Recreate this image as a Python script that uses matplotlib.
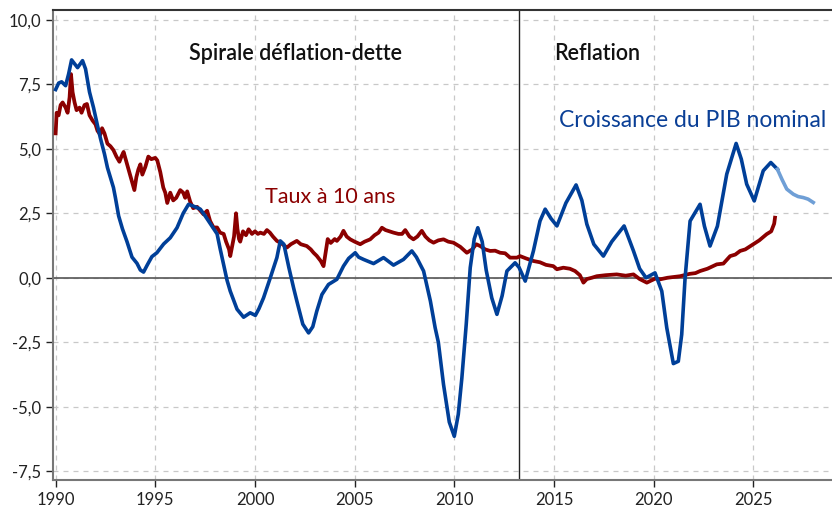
import matplotlib
matplotlib.use("Agg")
import matplotlib.pyplot as plt
import matplotlib.ticker as mticker

plt.rcParams['font.family'] = ['Lato', 'DejaVu Sans']

# Croissance du PIB nominal (glissement annuel, %)
gdp_years = [1990.0, 1990.15, 1990.3, 1990.5, 1990.65, 1990.8, 1990.95, 1991.1, 1991.35, 1991.5,
             1991.7, 1991.9, 1992.1, 1992.25, 1992.45, 1992.6, 1992.9, 1993.0, 1993.16, 1993.35,
             1993.58, 1993.83, 1994.08, 1994.25, 1994.41, 1994.6, 1994.83, 1995.08, 1995.42, 1995.75,
             1996.09, 1996.4, 1996.67, 1997.0, 1997.26, 1997.5, 1997.67, 1998.1, 1998.26, 1998.43,
             1998.6, 1998.76, 1999.1, 1999.43, 1999.76, 2000.02, 2000.2, 2000.43, 2000.77, 2001.1,
             2001.27, 2001.45, 2001.7, 2001.94, 2002.1, 2002.4, 2002.69, 2002.9, 2003.1, 2003.36,
             2003.69, 2004.11, 2004.44, 2004.7, 2005.03, 2005.2, 2005.45, 2005.95, 2006.45, 2006.95,
             2007.45, 2007.87, 2008.1, 2008.46, 2008.8, 2009.04, 2009.2, 2009.46, 2009.75, 2010.0,
             2010.2, 2010.38, 2010.6, 2010.8, 2011.0, 2011.18, 2011.4, 2011.6, 2011.88, 2012.14,
             2012.4, 2012.64, 2013.05, 2013.25, 2013.56, 2013.97, 2014.3, 2014.56, 2014.85, 2015.15,
             2015.6, 2016.11, 2016.4, 2016.65, 2017.0, 2017.48, 2017.9, 2018.52, 2018.99, 2019.3,
             2019.62, 2020.07, 2020.41, 2020.66, 2020.99, 2021.24, 2021.41, 2021.58, 2021.83, 2022.33,
             2022.55, 2022.83, 2023.2, 2023.67, 2024.14, 2024.4, 2024.67, 2025.05, 2025.5, 2025.88,
             2026.21]
gdp_values = [7.3, 7.55, 7.6, 7.45, 7.9, 8.45, 8.3, 8.15, 8.42, 8.1,
              7.2, 6.6, 5.9, 5.4, 4.8, 4.27, 3.5, 3.1, 2.4, 1.9,
              1.4, 0.8, 0.56, 0.3, 0.22, 0.5, 0.82, 0.97, 1.31, 1.55,
              1.94, 2.5, 2.85, 2.75, 2.66, 2.4, 2.2, 1.7, 1.1, 0.5,
              -0.1, -0.52, -1.22, -1.53, -1.36, -1.46, -1.2, -0.78, 0.0, 0.78,
              1.43, 1.3, 0.4, -0.4, -0.9, -1.8, -2.14, -1.9, -1.3, -0.65,
              -0.26, -0.06, 0.45, 0.75, 0.97, 0.8, 0.71, 0.55, 0.78, 0.49,
              0.71, 1.04, 0.8, 0.26, -0.9, -1.94, -2.5, -4.14, -5.6, -6.15,
              -5.3, -3.89, -1.8, 0.39, 1.5, 1.94, 1.4, 0.3, -0.78, -1.42,
              -0.7, 0.26, 0.58, 0.4, -0.13, 1.04, 2.2, 2.66, 2.3, 2.01,
              2.9, 3.6, 3.0, 2.08, 1.3, 0.84, 1.4, 2.01, 1.04, 0.35,
              0.0, 0.19, -0.52, -1.94, -3.33, -3.24, -2.2, 0.0, 2.2, 2.85,
              2.0, 1.23, 2.0, 4.02, 5.21, 4.6, 3.63, 2.98, 4.15, 4.47,
              4.21]

# prevision
fc_years = [2026.21, 2026.45, 2026.68, 2027.01, 2027.25, 2027.51, 2027.75, 2028.01]
fc_values = [4.21, 3.8, 3.44, 3.24, 3.15, 3.11, 3.05, 2.92]

# Taux a 10 ans
rate_years = [1990.0, 1990.05, 1990.15, 1990.25, 1990.35, 1990.5, 1990.6, 1990.7, 1990.77, 1990.85,
              1990.95, 1991.05, 1991.2, 1991.3, 1991.45, 1991.57, 1991.7, 1991.85, 1992.0, 1992.1,
              1992.24, 1992.33, 1992.45, 1992.6, 1992.75, 1992.9, 1993.05, 1993.2, 1993.3, 1993.41,
              1993.55, 1993.7, 1993.85, 1993.95, 1994.05, 1994.15, 1994.25, 1994.35, 1994.5, 1994.65,
              1994.8, 1995.0, 1995.1, 1995.25, 1995.4, 1995.5, 1995.6, 1995.75, 1995.9, 1996.05,
              1996.25, 1996.4, 1996.5, 1996.6, 1996.75, 1996.9, 1997.1, 1997.26, 1997.42, 1997.6,
              1997.75, 1997.92, 1998.1, 1998.25, 1998.43, 1998.55, 1998.7, 1998.76, 1998.85, 1998.95,
              1999.05, 1999.12, 1999.2, 1999.26, 1999.4, 1999.55, 1999.68, 1999.85, 2000.0, 2000.15,
              2000.27, 2000.45, 2000.6, 2000.75, 2000.9, 2001.1, 2001.3, 2001.6, 2001.8, 2002.1,
              2002.3, 2002.6, 2002.8, 2002.94, 2003.1, 2003.3, 2003.44, 2003.55, 2003.65, 2003.8,
              2004.0, 2004.11, 2004.3, 2004.44, 2004.6, 2004.78, 2005.0, 2005.28, 2005.5, 2005.78,
              2006.0, 2006.2, 2006.37, 2006.55, 2006.75, 2006.95, 2007.2, 2007.38, 2007.54, 2007.75,
              2007.95, 2008.15, 2008.37, 2008.55, 2008.75, 2008.96, 2009.2, 2009.46, 2009.7, 2009.96,
              2010.3, 2010.63, 2010.9, 2011.1, 2011.3, 2011.55, 2011.8, 2012.05, 2012.3, 2012.55,
              2012.8, 2013.14, 2013.3, 2013.6, 2013.97, 2014.3, 2014.6, 2014.97, 2015.15, 2015.47,
              2015.8, 2016.06, 2016.3, 2016.48, 2016.65, 2016.9, 2017.15, 2017.6, 2018.15, 2018.6,
              2018.99, 2019.3, 2019.66, 2019.9, 2020.1, 2020.33, 2020.7, 2021.0, 2021.33, 2021.8,
              2022.1, 2022.33, 2022.7, 2023.17, 2023.5, 2023.84, 2024.1, 2024.34, 2024.6, 2025.0,
              2025.3, 2025.67, 2025.9, 2026.05, 2026.09]
rate_values = [5.6, 6.4, 6.3, 6.7, 6.8, 6.6, 6.4, 7.0, 7.9, 7.2,
               6.8, 6.5, 6.6, 6.4, 6.7, 6.74, 6.3, 6.1, 5.95, 5.7,
               5.55, 5.8, 5.6, 5.2, 5.1, 4.95, 4.7, 4.5, 4.7, 4.88,
               4.5, 4.1, 3.7, 3.4, 3.9, 4.2, 4.4, 4.0, 4.3, 4.7,
               4.6, 4.65, 4.55, 4.1, 3.5, 3.3, 2.9, 3.3, 3.0, 3.1,
               3.4, 3.3, 3.1, 3.35, 2.95, 2.7, 2.75, 2.6, 2.46, 2.6,
               2.2, 1.95, 1.95, 1.75, 1.7, 1.4, 1.1, 0.84, 1.2, 1.6,
               2.5, 1.9, 1.5, 1.4, 1.8, 1.65, 1.88, 1.7, 1.8, 1.7,
               1.75, 1.7, 1.85, 1.75, 1.6, 1.43, 1.35, 1.17, 1.3, 1.43,
               1.3, 1.23, 1.1, 0.97, 0.85, 0.65, 0.45, 1.0, 1.5, 1.35,
               1.5, 1.43, 1.6, 1.82, 1.6, 1.49, 1.4, 1.3, 1.4, 1.49,
               1.65, 1.75, 1.94, 1.85, 1.8, 1.75, 1.7, 1.7, 1.85, 1.6,
               1.49, 1.6, 1.82, 1.6, 1.45, 1.36, 1.45, 1.49, 1.4, 1.36,
               1.2, 0.97, 1.1, 1.3, 1.23, 1.1, 1.04, 1.05, 0.97, 0.95,
               0.78, 0.78, 0.84, 0.75, 0.65, 0.6, 0.5, 0.45, 0.33, 0.39,
               0.35, 0.26, 0.1, -0.19, -0.05, 0.0, 0.06, 0.1, 0.13, 0.08,
               0.13, -0.05, -0.19, -0.1, -0.03, -0.06, 0.0, 0.03, 0.06, 0.15,
               0.18, 0.26, 0.35, 0.52, 0.55, 0.84, 0.9, 1.04, 1.1, 1.3,
               1.45, 1.69, 1.8, 2.1, 2.33]

x_ticks = [1990, 1995, 2000, 2005, 2010, 2015, 2020, 2025]
y_ticks = [-7.5, -5.0, -2.5, 0.0, 2.5, 5.0, 7.5, 10.0]
regime_break = 2013.25

fig = plt.figure(figsize=(8.32, 5.07), dpi=100)
ax = fig.add_axes([0.064, 0.053, 0.936, 0.928])

ax.plot(rate_years, rate_values, color='#8b0000', linewidth=2.7, zorder=3)
ax.plot(gdp_years, gdp_values, color='#003f98', linewidth=2.6, zorder=4)
ax.plot(fc_years, fc_values, color='#6f9fd6', linewidth=2.6, zorder=4)

ax.axhline(0, color='#555555', linewidth=1.2, zorder=2)
ax.axvline(regime_break, color='#222222', linewidth=1.0, zorder=2)

ax.set_xlim(1989.88, 2028.95)
ax.set_ylim(-7.85, 10.4)
ax.set_xticks(x_ticks)
ax.set_yticks(y_ticks)
ax.yaxis.set_major_formatter(mticker.FuncFormatter(lambda v, p: f"{v:.1f}".replace('.', ',')))
ax.grid(True, color='#c8c8c8', linestyle=(0, (4, 4)), linewidth=0.9)
ax.set_axisbelow(True)

for s in ['left', 'bottom']:
    ax.spines[s].set_color('#777777')
    ax.spines[s].set_linewidth(1.5)
ax.spines['top'].set_color('#333333')
ax.spines['top'].set_linewidth(1.5)
ax.spines['right'].set_visible(False)
ax.tick_params(colors='#222222', labelsize=12, length=5, width=1, direction='out')

ax.text(2002.02, 8.7, 'Spirale déflation-dette', fontsize=15.5, fontweight='semibold',
        ha='center', va='center', color='#111111')
ax.text(2017.17, 8.7, 'Reflation', fontsize=15.5, fontweight='semibold',
        ha='center', va='center', color='#111111')
ax.text(2028.66, 6.1, 'Croissance du PIB nominal', fontsize=16.5,
        ha='right', va='center', color='#0a3f96')
ax.text(2003.75, 3.14, 'Taux à 10 ans', fontsize=15.5,
        ha='center', va='center', color='#8b0000')

fig.savefig('out.png', dpi=100)
